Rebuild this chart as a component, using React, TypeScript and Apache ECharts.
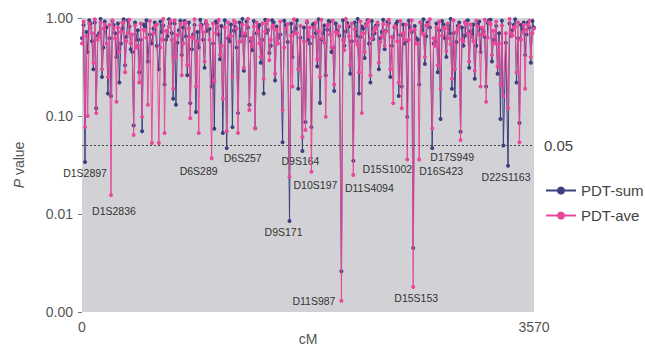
import React, { useEffect, useRef } from "react";
import * as echarts from "echarts";

// Markers, first set (cM positions and P values)
const positionsA = [
  0, 24, 45, 68, 90, 112, 135, 158, 180, 205,
  229, 250, 272, 295, 318, 340, 362, 385, 408, 430,
  452, 475, 498, 520, 552, 575, 607, 630, 652, 675,
  698, 720, 742, 765, 788, 810, 832, 855, 878, 900,
  922, 945, 968, 990, 1024, 1045, 1068, 1090, 1112, 1143,
  1165, 1188, 1210, 1232, 1255, 1278, 1300, 1322, 1345, 1368,
  1390, 1412, 1435, 1458, 1480, 1502, 1525, 1548, 1584, 1610,
  1639, 1662, 1685, 1708, 1741, 1765, 1788, 1812, 1835, 1858,
  1880, 1902, 1925, 1948, 1970, 1992, 2015, 2049, 2072, 2095,
  2118, 2143, 2165, 2188, 2210, 2232, 2255, 2278, 2300, 2322,
  2345, 2368, 2390, 2412, 2435, 2458, 2480, 2502, 2525, 2548,
  2569, 2592, 2616, 2640, 2663, 2685, 2708, 2730, 2766, 2788,
  2810, 2832, 2855, 2878, 2900, 2922, 2945, 2968, 2990, 3012,
  3035, 3058, 3080, 3102, 3125, 3148, 3170, 3192, 3215, 3238,
  3260, 3282, 3305, 3328, 3365, 3388, 3410, 3432, 3455, 3478,
  3500, 3522, 3545, 3570,
];

const pdtSumA = [
  0.62, 0.034, 0.45, 0.88, 0.3, 0.12, 0.7, 0.25, 0.92, 0.17,
  0.16, 0.85, 0.4, 0.22, 0.78, 0.33, 0.95, 0.48, 0.08, 0.6,
  0.28, 0.07, 0.82, 0.36, 0.55, 0.9, 0.3, 0.72, 0.21, 0.65,
  0.88, 0.15, 0.13, 0.75, 0.42, 0.93, 0.26, 0.135, 0.68, 0.11,
  0.5, 0.85, 0.31, 0.74, 0.2, 0.074, 0.9, 0.38, 0.067, 0.047,
  0.58, 0.077, 0.82, 0.107, 0.66, 0.29, 0.92, 0.13, 0.47, 0.075,
  0.8, 0.35, 0.17, 0.71, 0.44, 0.95, 0.23, 0.62, 0.054, 0.85,
  0.0085, 0.4, 0.78, 0.19, 0.044, 0.087, 0.6, 0.077, 0.88, 0.32,
  0.136, 0.7, 0.26, 0.93, 0.45, 0.18, 0.74, 0.0026, 0.52, 0.89,
  0.27, 0.035, 0.66, 0.17, 0.82, 0.39, 0.95, 0.22, 0.61, 0.84,
  0.3, 0.72, 0.48, 0.91, 0.25, 0.64, 0.87, 0.16, 0.2, 0.55,
  0.098, 0.8, 0.0045, 0.62, 0.21, 0.75, 0.34, 0.9, 0.047, 0.58,
  0.28, 0.093, 0.86, 0.4, 0.7, 0.19, 0.16, 0.83, 0.069, 0.52,
  0.92, 0.31, 0.68, 0.24, 0.88, 0.45, 0.73, 0.2, 0.95, 0.36,
  0.6, 0.27, 0.093, 0.05, 0.031, 0.66, 0.85, 0.22, 0.085, 0.77,
  0.42, 0.9, 0.35, 0.8,
];

const pdtAveA = [
  0.55, 0.077, 0.1, 0.8, 0.35, 0.107, 0.65, 0.3, 0.86, 0.25,
  0.0156, 0.78, 0.14, 0.45, 0.9, 0.28, 0.7, 0.55, 0.064, 0.5,
  0.22, 0.098, 0.75, 0.13, 0.053, 0.82, 0.053, 0.6, 0.067, 0.72,
  0.93, 0.19, 0.4, 0.68, 0.26, 0.88, 0.33, 0.095, 0.62, 0.2,
  0.067, 0.79, 0.36, 0.85, 0.037, 0.23, 0.82, 0.42, 0.15, 0.07,
  0.66, 0.25, 0.9, 0.067, 0.58, 0.31, 0.84, 0.115, 0.52, 0.075,
  0.73, 0.4, 0.24, 0.88, 0.37, 0.8, 0.27, 0.55, 0.115, 0.78,
  0.024, 0.2, 0.7, 0.3, 0.061, 0.072, 0.66, 0.027, 0.8, 0.38,
  0.25, 0.62, 0.098, 0.86, 0.5, 0.21, 0.69, 0.0013, 0.47, 0.83,
  0.33, 0.025, 0.58, 0.28, 0.107, 0.45, 0.9, 0.26, 0.72, 0.78,
  0.35, 0.65, 0.52, 0.85, 0.3, 0.135, 0.8, 0.22, 0.12, 0.6,
  0.036, 0.74, 0.0018, 0.55, 0.036, 0.7, 0.4, 0.85, 0.075, 0.52,
  0.33, 0.19, 0.8, 0.46, 0.62, 0.24, 0.3, 0.77, 0.057, 0.58,
  0.88, 0.36, 0.64, 0.29, 0.82, 0.2, 0.68, 0.14, 0.9, 0.42,
  0.55, 0.32, 0.21, 0.16, 0.12, 0.7, 0.8, 0.28, 0.054, 0.72,
  0.19, 0.85, 0.4, 0.78,
];

// Markers, second set (between the first set)
const positionsB = [
  12, 35, 57, 79, 101, 124, 147, 169, 193, 217,
  240, 261, 284, 307, 329, 351, 374, 397, 419, 441,
  464, 487, 509, 536, 564, 591, 619, 641, 664, 687,
  709, 731, 754, 777, 799, 821, 844, 867, 889, 911,
  934, 957, 979, 1007, 1035, 1057, 1079, 1101, 1128, 1154,
  1177, 1199, 1221, 1244, 1267, 1289, 1311, 1334, 1357, 1379,
  1401, 1424, 1447, 1469, 1491, 1514, 1537, 1566, 1597, 1625,
  1651, 1674, 1697, 1725, 1753, 1777, 1800, 1824, 1847, 1869,
  1891, 1914, 1937, 1959, 1981, 2004, 2032, 2061, 2084, 2107,
  2131, 2154, 2177, 2199, 2221, 2244, 2267, 2289, 2311, 2334,
  2357, 2379, 2401, 2424, 2447, 2469, 2491, 2514, 2537, 2559,
  2581, 2604, 2628, 2652, 2674, 2697, 2719, 2748, 2777, 2799,
  2821, 2844, 2867, 2889, 2911, 2934, 2957, 2979, 3001, 3024,
  3047, 3069, 3091, 3114, 3137, 3159, 3181, 3204, 3227, 3249,
  3271, 3294, 3317, 3347, 3377, 3399, 3421, 3444, 3467, 3489,
  3511, 3534, 3558,
];

const pdtSumB = [
  0.85, 0.72, 0.95, 0.58, 0.9, 0.66, 0.98, 0.5, 0.8, 0.62,
  0.93, 0.7, 0.88, 0.55, 0.97, 0.64, 0.82, 0.45, 0.9, 0.75,
  0.6, 0.86, 0.95, 0.68, 0.78, 0.52, 0.92, 0.84, 0.6, 0.97,
  0.7, 0.88, 0.56, 0.94, 0.8, 0.65, 0.9, 0.48, 0.85, 0.72,
  0.96, 0.6, 0.88, 0.77, 0.55, 0.92, 0.68, 0.83, 0.95, 0.62,
  0.86, 0.74, 0.5, 0.9, 0.98, 0.66, 0.8, 0.58, 0.93, 0.7,
  0.85, 0.6, 0.96, 0.75, 0.52, 0.9, 0.82, 0.68, 0.94, 0.57,
  0.88, 0.72, 0.95, 0.63, 0.8, 0.9, 0.55, 0.86, 0.7, 0.97,
  0.6, 0.84, 0.76, 0.92, 0.5, 0.88, 0.66, 0.95, 0.73, 0.82,
  0.58, 0.9, 0.98, 0.64, 0.78, 0.87, 0.55, 0.93, 0.7, 0.85,
  0.62, 0.96, 0.74, 0.89, 0.52, 0.8, 0.92, 0.67, 0.86, 0.58,
  0.94, 0.72, 0.83, 0.6, 0.9, 0.97, 0.65, 0.8, 0.55, 0.88,
  0.75, 0.93, 0.62, 0.85, 0.98, 0.7, 0.57, 0.9, 0.8, 0.66,
  0.95, 0.73, 0.86, 0.52, 0.92, 0.78, 0.64, 0.89, 0.96, 0.6,
  0.83, 0.7, 0.94, 0.56, 0.88, 0.75, 0.97, 0.62, 0.85, 0.9,
  0.68, 0.8, 0.93,
];

const pdtAveB = [
  0.92, 0.65, 0.88, 0.7, 0.97, 0.6, 0.9, 0.78, 0.55, 0.85,
  0.95, 0.62, 0.8, 0.72, 0.9, 0.58, 0.96, 0.68, 0.84, 0.52,
  0.88, 0.76, 0.63, 0.93, 0.7, 0.86, 0.5, 0.98, 0.74, 0.82,
  0.6, 0.95, 0.67, 0.87, 0.55, 0.9, 0.78, 0.64, 0.97, 0.58,
  0.84, 0.72, 0.93, 0.6, 0.88, 0.7, 0.96, 0.52, 0.8, 0.9,
  0.65, 0.94, 0.78, 0.57, 0.86, 0.7, 0.98, 0.62, 0.82, 0.9,
  0.55, 0.88, 0.73, 0.95, 0.6, 0.84, 0.76, 0.92, 0.5, 0.87,
  0.66, 0.97, 0.7, 0.83, 0.58, 0.93, 0.8, 0.64, 0.9, 0.74,
  0.96, 0.56, 0.85, 0.68, 0.94, 0.72, 0.82, 0.6, 0.98, 0.65,
  0.88, 0.77, 0.53, 0.92, 0.7, 0.84, 0.95, 0.62, 0.8, 0.9,
  0.57, 0.87, 0.73, 0.96, 0.64, 0.83, 0.58, 0.93, 0.7, 0.86,
  0.6, 0.95, 0.76, 0.55, 0.9, 0.68, 0.84, 0.97, 0.62, 0.8,
  0.92, 0.66, 0.78, 0.88, 0.54, 0.95, 0.72, 0.83, 0.6, 0.9,
  0.7, 0.86, 0.58, 0.94, 0.68, 0.8, 0.96, 0.63, 0.87, 0.74,
  0.92, 0.55, 0.84, 0.7, 0.98, 0.66, 0.82, 0.9, 0.6, 0.85,
  0.76, 0.94, 0.7,
];

const xTickLabels = ["0", "3570"];
const thresholdValue = 0.05;

// Labelled markers: name, series and cM position
const markerNames = [
  "D1S2897", "D1S2836", "D6S289", "D6S257", "D9S164", "D9S171", "D10S197",
  "D11S987", "D11S4094", "D15S1002", "D15S153", "D16S423", "D17S949", "D22S1163",
];
const markerSeries = [
  "sum", "ave", "ave", "sum", "sum", "sum", "ave",
  "ave", "ave", "ave", "ave", "ave", "sum", "sum",
];
const markerPositions = [24, 229, 1024, 1143, 1741, 1639, 1812, 2049, 2143, 2569, 2616, 2663, 2766, 3365];

// label placement styles (offsets in px)
const markerLabelStyle: Record<string, { position: string; offset: number[] }> = {
  D1S2897: { position: "bottom", offset: [0, 0] },
  D1S2836: { position: "bottom", offset: [3, 4] },
  D6S289: { position: "bottom", offset: [-13, 1] },
  D6S257: { position: "bottom", offset: [16, -2] },
  D9S164: { position: "bottom", offset: [-2, -1] },
  D9S171: { position: "bottom", offset: [-6, 0] },
  D10S197: { position: "bottom", offset: [4, 2] },
  D11S987: { position: "left", offset: [0, 0] },
  D11S4094: { position: "bottom", offset: [16, 1] },
  D15S1002: { position: "bottom", offset: [-20, -2] },
  D15S153: { position: "bottom", offset: [3, 0] },
  D16S423: { position: "bottom", offset: [22, 0] },
  D17S949: { position: "bottom", offset: [20, -3] },
  D22S1163: { position: "bottom", offset: [-2, 0] },
};

const SUM_COLOR = "#3c3f7e";
const AVE_COLOR = "#e8489a";
const FONT = "Liberation Sans, Arial, sans-serif";

function mergeSeries(posA: number[], valA: number[], posB: number[], valB: number[]) {
  const pts: [number, number][] = [];
  posA.forEach((p, i) => pts.push([p, valA[i]]));
  posB.forEach((p, i) => pts.push([p, valB[i]]));
  pts.sort((a, b) => a[0] - b[0]);
  return pts;
}

function buildData(pts: [number, number][], key: string) {
  return pts.map(([x, v]) => {
    const item: any = { value: [x, v] };
    const k = markerPositions.findIndex((mp, j) => mp === x && markerSeries[j] === key);
    if (k >= 0) {
      const name = markerNames[k];
      const st = markerLabelStyle[name];
      item.label = {
        show: true,
        formatter: name,
        position: st.position,
        offset: st.offset,
        distance: 4,
        color: "#333",
        fontSize: 10.5,
        fontFamily: FONT,
      };
    }
    return item;
  });
}

export default function App() {
  const ref = useRef<HTMLDivElement>(null);
  useEffect(() => {
    if (!ref.current) return;
    document.body.style.margin = "0";
    const chart = echarts.init(ref.current, null, { renderer: "svg" });
    chart.setOption({
      animation: false,
      backgroundColor: "#ffffff",
      textStyle: { fontFamily: FONT },
      grid: {
        left: 82,
        right: 111,
        top: 18,
        bottom: 38,
        show: true,
        backgroundColor: "#d2d2d6",
        borderWidth: 0,
        containLabel: false,
        outerBoundsMode: "none",
      },
      legend: {
        orient: "vertical",
        left: 540,
        top: 178,
        itemWidth: 30,
        itemHeight: 10,
        itemGap: 10,
        textStyle: { fontSize: 15, color: "#444", fontFamily: FONT },
        data: ["PDT-sum", "PDT-ave"],
      },
      xAxis: {
        type: "value",
        min: 0,
        max: 3570,
        interval: 3570,
        name: "cM",
        nameLocation: "middle",
        nameGap: 20,
        nameMoveOverlap: false,
        nameTextStyle: { fontSize: 14, color: "#555", fontFamily: FONT },
        axisLine: { show: false },
        axisTick: { show: false },
        splitLine: { show: false },
        axisLabel: {
          fontSize: 14,
          color: "#555",
          margin: 8,
          formatter: (v: number) => (v === 0 ? xTickLabels[0] : v === 3570 ? xTickLabels[1] : ""),
        },
      },
      yAxis: {
        type: "log",
        logBase: 10,
        min: 0.001,
        max: 1,
        name: "{i|P} value",
        nameLocation: "middle",
        nameGap: 56,
        nameRotate: 90,
        nameMoveOverlap: false,
        nameTextStyle: {
          fontSize: 14,
          color: "#555",
          fontFamily: FONT,
          rich: { i: { fontStyle: "italic", fontSize: 14, color: "#555", fontFamily: FONT } },
        },
        axisLine: { show: false },
        axisTick: { show: true, length: 4, lineStyle: { color: "#777" } },
        splitLine: { show: false },
        axisLabel: {
          fontSize: 14,
          color: "#555",
          margin: 9,
          formatter: (v: number) => v.toFixed(2),
        },
      },
      series: [
        {
          name: "PDT-sum",
          type: "line",
          data: buildData(mergeSeries(positionsA, pdtSumA, positionsB, pdtSumB), "sum"),
          symbol: "circle",
          symbolSize: 4,
          showAllSymbol: true,
          color: SUM_COLOR,
          lineStyle: { width: 1, color: SUM_COLOR },
          itemStyle: { color: SUM_COLOR },
          z: 2,
          markLine: {
            silent: true,
            symbol: "none",
            lineStyle: { color: "#444", type: [2, 2], width: 1 },
            label: {
              show: true,
              position: "end",
              formatter: "0.05",
              fontSize: 15,
              color: "#444",
              fontFamily: FONT,
              distance: 10,
            },
            data: [{ yAxis: thresholdValue }],
          },
        },
        {
          name: "PDT-ave",
          type: "line",
          data: buildData(mergeSeries(positionsA, pdtAveA, positionsB, pdtAveB), "ave"),
          symbol: "circle",
          symbolSize: 4,
          showAllSymbol: true,
          color: AVE_COLOR,
          lineStyle: { width: 1, color: AVE_COLOR },
          itemStyle: { color: AVE_COLOR },
          z: 3,
        },
      ],
    });
    return () => chart.dispose();
  }, []);
  return <div ref={ref} style={{ width: 645, height: 350 }} />;
}
